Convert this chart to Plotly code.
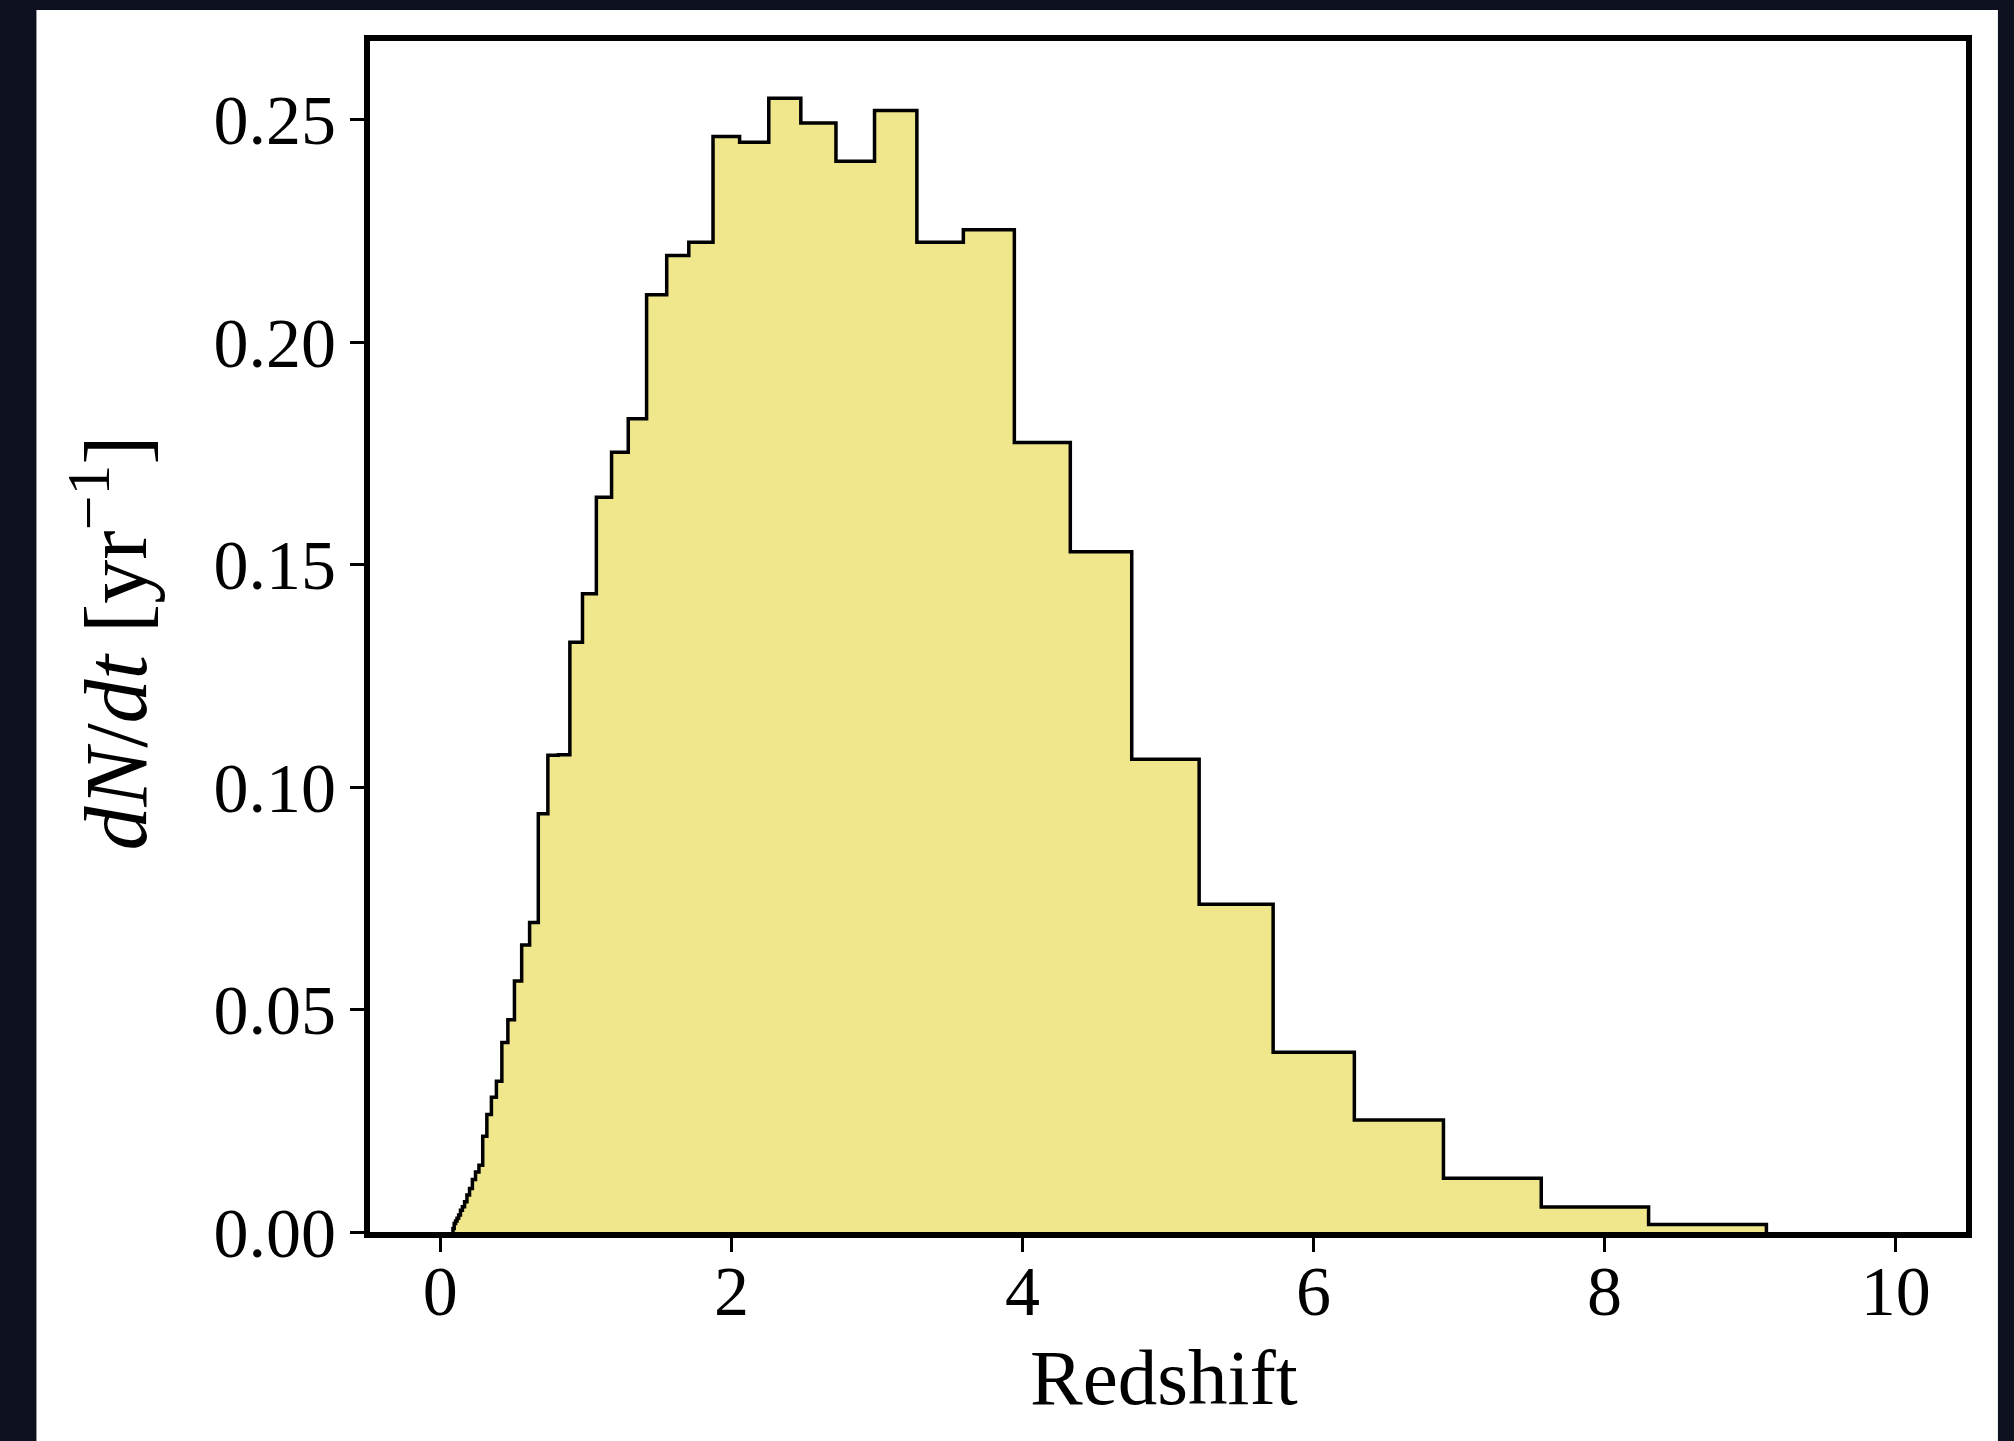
import plotly.graph_objects as go

# Bin edges (redshift) and histogram heights dN/dt [yr^-1]
bin_edges = [0.0870, 0.0955, 0.1048, 0.1150, 0.1262, 0.1385, 0.1520, 0.1668, 0.1831,
             0.2009, 0.2205, 0.2420, 0.2656, 0.2915, 0.3199, 0.3511, 0.3854, 0.4229,
             0.4642, 0.5094, 0.5591, 0.6136, 0.6734, 0.7391, 0.8111, 0.8902, 0.9770,
             1.0723, 1.1768, 1.2915, 1.4175, 1.5557, 1.7074, 1.8738, 2.0565, 2.2570,
             2.4771, 2.7186, 2.9836, 3.2745, 3.5938, 3.9442, 4.3288, 4.7508, 5.2140,
             5.7224, 6.2803, 6.8926, 7.5646, 8.3022, 9.1116]

dndt = [0.0008, 0.0019, 0.0025, 0.0031, 0.0038, 0.0049, 0.0057, 0.0068, 0.0083,
        0.0098, 0.0118, 0.0135, 0.0150, 0.0215, 0.0264, 0.0303, 0.0339, 0.0426,
        0.0477, 0.0564, 0.0645, 0.0696, 0.0940, 0.1072, 0.1073, 0.1326, 0.1435,
        0.1652, 0.1753, 0.1828, 0.2107, 0.2195, 0.2225, 0.2463, 0.2450, 0.2549,
        0.2493, 0.2407, 0.2521, 0.2225, 0.2253, 0.1775, 0.1529, 0.1063, 0.0737,
        0.0404, 0.0252, 0.0121, 0.0056, 0.0017]

x_ticks = [0, 2, 4, 6, 8, 10]
y_ticks = [0.00, 0.05, 0.10, 0.15, 0.20, 0.25]

# step outline (stepfilled histogram)
xs = [bin_edges[0]] + bin_edges[:-1] + [bin_edges[-1]]
ys = [0.0] + dndt + [0.0]

FONT = "Liberation Serif"

fig = go.Figure()
fig.add_trace(go.Scatter(
    x=xs, y=ys, mode="lines", line=dict(shape="hv", color="black", width=3.5),
    fill="tozeroy", fillcolor="#f0e68c", hoverinfo="skip", showlegend=False,
    cliponaxis=True,
))

fig.update_layout(
    width=2014, height=1441,
    margin=dict(l=369.5, r=48, t=40.5, b=209, pad=0),
    paper_bgcolor="#0e1120",
    plot_bgcolor="rgba(0,0,0,0)",
    font=dict(family=FONT, color="black", size=70),
    showlegend=False,
    shapes=[dict(type="rect", xref="paper", yref="paper",
                 x0=-0.2090, x1=1.0200, y0=-0.26, y1=1.0260,
                 fillcolor="white", line=dict(width=0), layer="below")],
    annotations=[
        dict(text="Redshift", xref="paper", yref="paper", x=0.4977, y=-0.1225,
             xanchor="center", yanchor="middle", showarrow=False,
             font=dict(family=FONT, size=79, color="black")),
        dict(text="<i>dN</i>/<i>dt</i> [yr<sup>−1</sup>]", xref="paper", yref="paper",
             x=-0.163, y=0.4948, textangle=-90, xanchor="center", yanchor="middle",
             showarrow=False, font=dict(family=FONT, size=88, color="black")),
    ],
)

fig.update_xaxes(
    range=[-0.483, 10.483], tickvals=x_ticks, ticktext=[str(v) for v in x_ticks],
    showgrid=False, zeroline=False, showline=True, linecolor="black", linewidth=6,
    mirror=True, ticks="outside", ticklen=14, tickwidth=3, tickcolor="black",
    ticklabelstandoff=-21,
    tickfont=dict(family=FONT, size=70, color="black"),
)
fig.update_yaxes(
    range=[0, 0.26775], tickvals=y_ticks, ticktext=[f"{v:.2f}" for v in y_ticks],
    showgrid=False, zeroline=False, showline=True, linecolor="black", linewidth=6,
    mirror=True, ticks="outside", ticklen=14, tickwidth=3, tickcolor="black",
    tickfont=dict(family=FONT, size=70, color="black"),
)

fig.write_html("out.html")
